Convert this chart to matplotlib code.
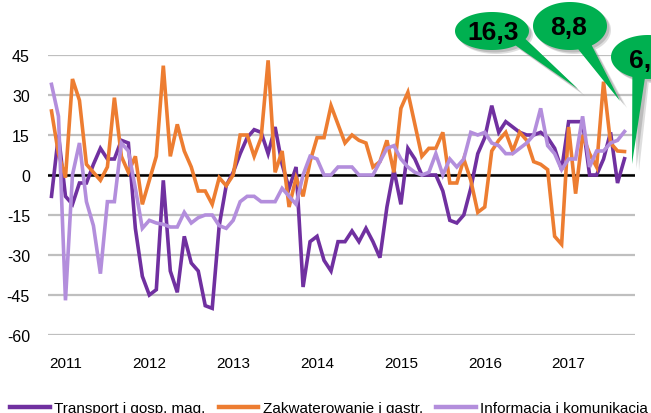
"""Monthly y/y changes by sector (Transport, Zakwaterowanie, Informacja), with callouts."""

import numpy as np
import pandas as pd
import matplotlib
matplotlib.use("Agg")
import matplotlib.pyplot as plt
from matplotlib.patches import Polygon
from matplotlib.lines import Line2D

plt.rcParams["font.family"] = ["Liberation Sans", "DejaVu Sans"]
plt.rcParams["axes.unicode_minus"] = False

# ---- data (monthly, Nov 2010 .. Sep 2017) ----
months = pd.date_range("2010-11-01", periods=83, freq="MS")

transport = [-8, 15, -8, -11, -3, -3, 4, 10, 6, 6,
             13, 12, -20, -38, -45, -43, -2, -36, -44, -23,
             -33, -36, -49, -50, -19, -4, 1, 8, 14, 17,
             16, 8, 18, 4, -5, 3, -42, -25, -23, -32,
             -36, -25, -25, -21, -25, -20, -25, -31, -12, 2,
             -11, 10, 6, 0, 0, 0, -6, -17, -18, -15,
             -5, 8, 14, 26, 16, 20, 18, 16, 15, 15,
             16, 14, 10, 2, 20, 20, 20, 0, 0, 6,
             16, -3, 6.1]

zakwaterowanie = [24, 8, -1, 36, 28, 4, 1, -2, 3, 29,
                  7, 1, 7, -11, -2, 7, 41, 7, 19, 9,
                  3, -6, -6, -11, -1, -4, 0, 15, 15, 7,
                  14, 43, 1, 9, -12, -1, -8, 5, 14, 14,
                  26, 19, 12, 15, 13, 12, 3, 5, 13, 1,
                  25, 31, 19, 7, 10, 10, 16, -3, -3, 6,
                  -2, -14, -12, 9, 13, 16, 9, 16, 13, 5,
                  4, 2, -23, -26, 18, -7, 15, 8, 3, 35,
                  12, 9, 8.8]

informacja = [34, 22, -47, 0, 12, -10, -19, -37, -10, -10,
              12, 9, -5, -20, -17, -18, -18.5, -19.5, -19.5, -14,
              -18, -16, -15, -15, -19, -20, -17, -10, -8, -8,
              -10, -10, -10, -5, -8, -11, 0, 7, 6, 0,
              0, 3, 3, 3, 0, 0, 0, 5, 10, 11,
              6, 3, 1, 0, 1, 8, 0, 6, 3, 6,
              16, 15, 16, 12, 11, 8, 8, 10, 12, 15,
              25, 11, 8, 2, 6, 6, 22, 3, 9, 9,
              12, 13, 16.3]

labels = ["Transport i gosp. mag.", "Zakwaterowanie i gastr.", "Informacja i komunikacja"]
colors = ["#7030A0", "#ED7D31", "#B38EDC"]
series = [transport, zakwaterowanie, informacja]

yticks = list(range(-60, 46, 15))

W, H = 651, 414


def px(x, y):
    """pixel (from top-left) -> figure fraction"""
    return (x / W, 1 - y / H)


def bubble(cx, cy, a, b, t1, t2, tip, dx=0, dy=0):
    """ellipse outline with a wedge tail leaving between angles t1..t2 (deg, y down)"""
    ang = np.radians(np.linspace(t2, t1 + 360, 140))
    pts = list(zip(cx + a * np.cos(ang), cy + b * np.sin(ang))) + [tip]
    return [px(x + dx, y + dy) for x, y in pts]


fig = plt.figure(figsize=(W / 100, H / 100), dpi=100)
ax = fig.add_axes([48 / W, 78 / H, 587 / W, 280 / H])

x = np.arange(len(months))
for vals, col, lab in zip(series, colors, labels):
    ax.plot(x, vals, color=col, lw=2.6, label=lab, zorder=3, solid_joinstyle="miter")

ax.axhline(0, color="black", lw=1.8, zorder=2)
ax.set_ylim(-60, 45)
ax.set_xlim(-0.5, len(months) + 0.5)
ax.set_yticks(yticks)
ax.set_yticklabels([str(v) for v in yticks])
jan = [i for i, d in enumerate(months) if d.month == 1]
ax.set_xticks(jan)
ax.set_xticklabels([str(months[i].year) for i in jan])
ax.yaxis.grid(True, color="#BFBFBF", lw=1.6, zorder=0)
ax.set_axisbelow(True)
for s in ax.spines.values():
    s.set_visible(False)
ax.tick_params(axis="y", length=0, labelsize=11.5, pad=13)
ax.tick_params(axis="x", length=0, labelsize=11, pad=15)

# callouts with last values
callouts = [
    (informacja[-1], (492, 32, 37, 19, 25, 50, (578, 90)), (493, 33)),
    (zakwaterowanie[-1], (570, 27, 37, 24, 54, 77, (620, 102)), (569, 28)),
    (transport[-1], (648, 58, 37, 22, 95, 115, (632, 165)), (647, 61)),
]
for val, (cx, cy, a, b, t1, t2, tip), (tx, ty) in callouts:
    fig.add_artist(Polygon(bubble(cx, cy, a, b, t1, t2, (tip[0] + 3, tip[1] + 3), dx=4, dy=4),
                           closed=True, facecolor="#7F7F7F", edgecolor="none", alpha=0.25,
                           transform=fig.transFigure, zorder=10))
    fig.add_artist(Polygon(bubble(cx, cy, a, b, t1, t2, (tip[0] + 2, tip[1] + 2), dx=2.5, dy=2.5),
                           closed=True, facecolor="#7F7F7F", edgecolor="none", alpha=0.35,
                           transform=fig.transFigure, zorder=10))
    fig.add_artist(Polygon(bubble(cx, cy, a, b, t1, t2, tip),
                           closed=True, facecolor="#00B050", edgecolor="none",
                           transform=fig.transFigure, zorder=11))
    fig.text(*px(tx, ty), f"{val:.1f}".replace(".", ","), ha="center", va="center",
             fontsize=19, fontweight="bold", color="black", zorder=12,
             family=["Liberation Sans Narrow", "Liberation Sans", "DejaVu Sans"])

handles = [Line2D([], [], color=c, lw=3.2) for c in colors]
fig.legend(handles, labels, loc="center left", bbox_to_anchor=px(10, 409), ncol=3,
           frameon=False, fontsize=11, handlelength=2.6, handletextpad=0.3,
           columnspacing=0.85, borderpad=0, borderaxespad=0)

fig.savefig("out.png", dpi=100)
